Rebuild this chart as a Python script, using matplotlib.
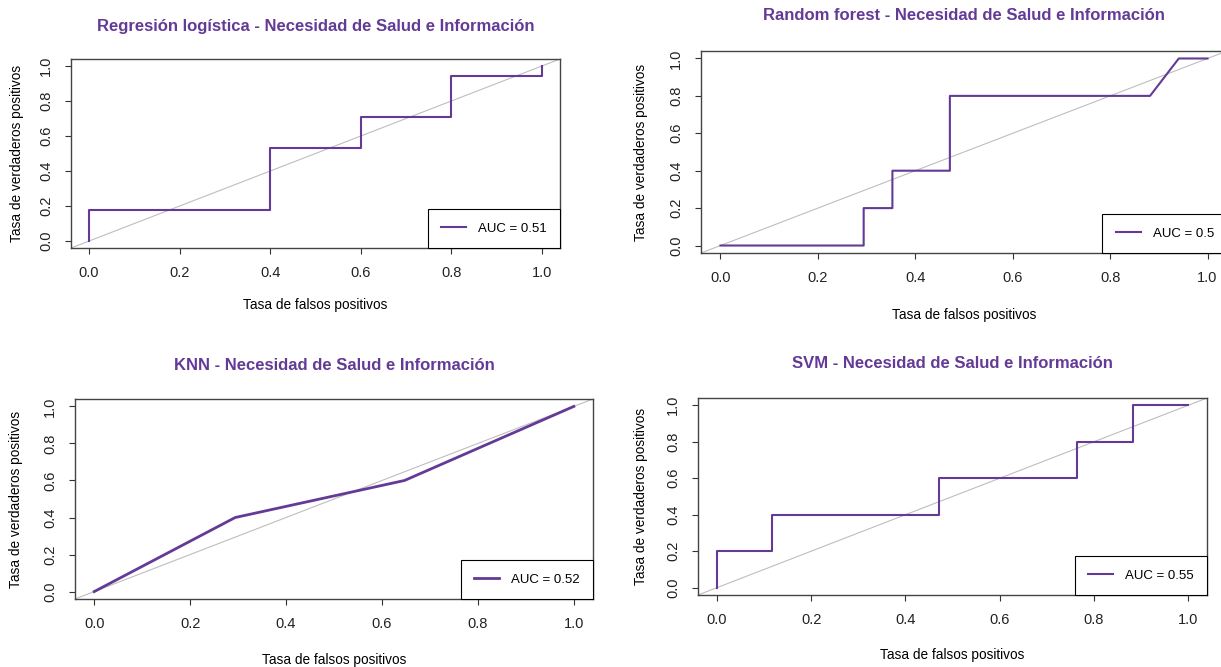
import matplotlib
matplotlib.use('Agg')
import matplotlib.pyplot as plt

# Curvas ROC de los cuatro modelos (tasa de falsos / verdaderos positivos)
rl_fpr = [0, 0, 0.4, 0.4, 0.6, 0.6, 0.8, 0.8, 1, 1]
rl_tpr = [0, 0.176, 0.176, 0.529, 0.529, 0.706, 0.706, 0.941, 0.941, 1]

rf_fpr = [0, 0.294, 0.294, 0.353, 0.353, 0.471, 0.471, 0.882, 0.941, 1]
rf_tpr = [0, 0, 0.2, 0.2, 0.4, 0.4, 0.8, 0.8, 1, 1]

knn_fpr = [0, 0.294, 0.647, 1]
knn_tpr = [0, 0.4, 0.6, 1]

svm_fpr = [0, 0, 0.118, 0.118, 0.471, 0.471, 0.765, 0.765, 0.882, 0.882, 1]
svm_tpr = [0, 0.2, 0.2, 0.4, 0.4, 0.6, 0.6, 0.8, 0.8, 1, 1]

modelos = ['Regresión logística', 'Random forest', 'KNN', 'SVM']
auc = [0.51, 0.5, 0.52, 0.55]
ticks = [0.0, 0.2, 0.4, 0.6, 0.8, 1.0]
tick_labels = ['0.0', '0.2', '0.4', '0.6', '0.8', '1.0']

curvas = [(rl_fpr, rl_tpr), (rf_fpr, rf_tpr), (knn_fpr, knn_tpr), (svm_fpr, svm_tpr)]

morado = '#633A96'
plt.rcParams['font.family'] = ['Liberation Sans', 'DejaVu Sans']

W, H = 1221, 667
fig = plt.figure(figsize=(W / 100, H / 100), dpi=100)

# cajas en pixeles: izq, der, arriba, abajo ; y del titulo, y de xlabel, x de ylabel
cajas = [(71, 560, 59, 248, 27, 305, 17),
         (701, 1227, 51, 253, 16, 315, 641),
         (75, 593, 399, 599, 365, 660, 16),
         (698, 1207, 398, 595, 364, 655, 641)]
grosor = [1.5, 1.5, 2.0, 1.5]

for i, (fpr, tpr) in enumerate(curvas):
    l, r, t, b, yt, yx, xy = cajas[i]
    ax = fig.add_axes([l / W, 1 - b / H, (r - l) / W, (b - t) / H])
    ax.set_xlim(-0.04, 1.04)
    ax.set_ylim(-0.04, 1.04)

    ax.axline((0, 0), (1, 1), color='#BEBEBE', lw=0.8, zorder=1)
    ax.plot(fpr, tpr, color=morado, lw=grosor[i], label='AUC = %g' % auc[i], zorder=2)

    ax.set_xticks(ticks)
    ax.set_xticklabels(tick_labels)
    ax.set_yticks(ticks)
    ax.set_yticklabels(tick_labels, rotation=90, va='center')
    ax.tick_params(length=4.3, width=0.8, color='#333333', labelsize=10.5,
                   labelcolor='#222222', pad=8.5)
    for s in ax.spines.values():
        s.set_color('#444444')
        s.set_linewidth(1.0)

    leg = ax.legend(loc='lower right', borderaxespad=0, fancybox=False,
                    edgecolor='black', framealpha=1, fontsize=9.5,
                    handlelength=1.9, handletextpad=0.9, borderpad=1.0)
    leg.get_frame().set_linewidth(0.8)

    fig.text((l + r) / 2 / W, 1 - yt / H, modelos[i] + ' - Necesidad de Salud e Información',
             ha='center', va='center', fontsize=12, fontweight='bold', color=morado)
    fig.text((l + r) / 2 / W, 1 - yx / H, 'Tasa de falsos positivos',
             ha='center', va='center', fontsize=9.8)
    fig.text(xy / W, 1 - (t + b) / 2 / H, 'Tasa de verdaderos positivos',
             ha='center', va='center', rotation=90, fontsize=9.8)

fig.savefig('out.png', dpi=100)
